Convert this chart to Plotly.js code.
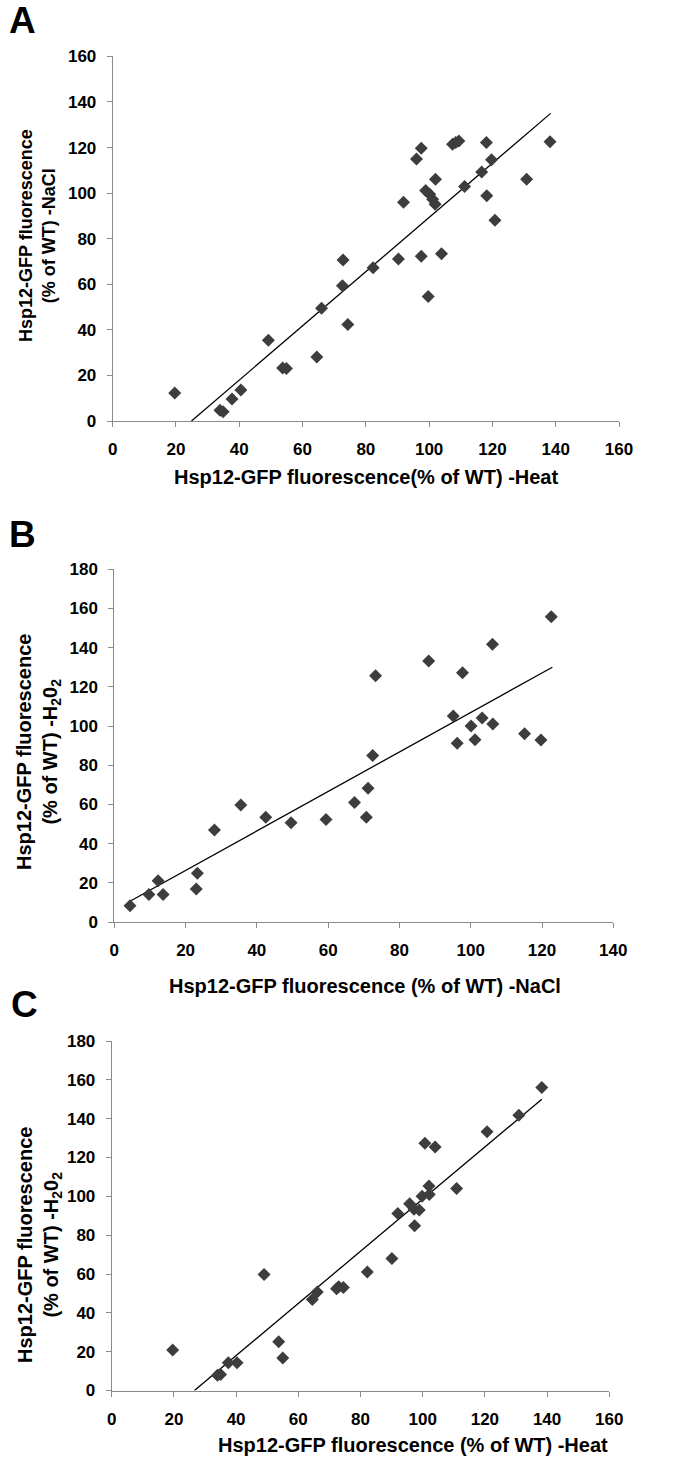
<!DOCTYPE html>
<html>
<head>
<meta charset="utf-8">
<script src="https://cdn.plot.ly/plotly-3.0.1.min.js"></script>
<style>
html,body{margin:0;padding:0;background:#fff;}
#chart{width:673px;height:1462px;}
</style>
</head>
<body>
<div id="chart"></div>
<script>
// Panel A: Heat (x) vs NaCl (y)
const heatA = [19.6,33.9,34.9,37.7,40.5,49.2,53.7,54.9,64.5,66.0,72.6,72.8,74.3,82.3,90.3,91.9,96.0,97.5,97.5,99.7,98.9,100.2,101.1,101.9,102.0,103.9,107.4,108.4,109.4,111.2,116.6,118.1,118.2,119.7,120.8,130.8,138.2];
const naclA = [12.3,4.7,4.1,9.7,13.6,35.4,23.3,23.0,28.1,49.5,59.3,70.7,42.3,67.3,71.1,96.0,115.0,119.7,72.3,54.6,101.1,99.5,97.3,95.1,106.1,73.4,121.4,122.2,122.9,102.9,109.3,122.2,98.9,114.6,88.1,106.1,122.6];
const trendA_x = [24.9, 138.4];
const trendA_y = [0, 135.0];

// Panel B: NaCl (x) vs H2O2 (y)
const naclB = [4.4,9.7,12.3,13.7,23.0,23.3,28.1,35.5,42.5,49.6,59.4,67.4,70.7,71.2,72.5,73.3,88.2,95.1,96.2,97.7,100.1,101.2,103.2,106.2,106.1,115.1,119.7,122.6];
const h2o2B = [8.3,14.0,21.0,14.0,16.9,24.9,46.9,59.7,53.5,50.6,52.3,61.0,53.5,68.2,85.0,125.7,133.2,105.1,91.2,127.2,100.0,93.0,104.1,101.0,141.7,96.1,92.9,155.8];
const trendB_x = [4.4, 122.9];
const trendB_y = [10.6, 130.0];

// Panel C: Heat (x) vs H2O2 (y)
const heatC = [19.6,34.0,35.0,37.5,40.3,49.0,53.7,55.0,64.5,66.1,72.3,73.0,74.5,82.2,90.1,92.0,95.8,97.4,97.2,98.9,99.8,100.7,102.0,102.1,104.0,110.9,120.7,130.9,138.3];
const h2o2C = [20.8,7.9,8.2,14.3,14.3,59.8,25.1,16.8,46.9,50.7,52.4,53.4,53.1,61.0,68.0,91.1,96.2,84.9,93.3,93.0,100.0,127.3,105.3,101.0,125.4,104.0,133.2,141.8,156.0];
const trendC_x = [26.6, 138.3];
const trendC_y = [0, 150.0];

const tickVals160 = [0,20,40,60,80,100,120,140,160];
const tickVals180 = [0,20,40,60,80,100,120,140,160,180];
const tickVals140 = [0,20,40,60,80,100,120,140];

const FONT = '"Liberation Sans", Arial, sans-serif';
const W = 673, H = 1462;
const px = v => v / W;
const py = v => 1 - v / H;

const markerStyle = {symbol:'diamond', size:10, color:'#3d3d3d', line:{width:0}};
const lineStyle = {color:'#000', width:1.3};

function pts(x, y, xa, ya){
  return {type:'scatter', mode:'markers', x:x, y:y, xaxis:xa, yaxis:ya, marker:markerStyle, cliponaxis:false, hoverinfo:'skip'};
}
function trend(x, y, xa, ya){
  return {type:'scatter', mode:'lines', x:x, y:y, xaxis:xa, yaxis:ya, line:lineStyle, hoverinfo:'skip'};
}

const data = [
  trend(trendA_x, trendA_y, 'x', 'y'), pts(heatA, naclA, 'x', 'y'),
  trend(trendB_x, trendB_y, 'x2', 'y2'), pts(naclB, h2o2B, 'x2', 'y2'),
  trend(trendC_x, trendC_y, 'x3', 'y3'), pts(heatC, h2o2C, 'x3', 'y3')
];

const tickFont = {family:FONT, size:17, color:'#000', weight:'bold'};

function xax(range, vals, d0, d1, anchor){
  return {domain:[px(d0), px(d1)], range:range, tickvals:vals, ticktext:vals.map(String),
    showline:true, linecolor:'#8a8a8a', linewidth:1, ticks:'outside', ticklen:5, tickcolor:'#8a8a8a',
    ticklabelstandoff:8,
    showgrid:false, zeroline:false, anchor:anchor, fixedrange:true, tickfont:tickFont};
}
function yax(range, vals, top, bottom, anchor){
  return {domain:[py(bottom), py(top)], range:range, tickvals:vals, ticktext:vals.map(String),
    showline:true, linecolor:'#8a8a8a', linewidth:1, ticks:'outside', ticklen:5, tickcolor:'#8a8a8a',
    ticklabelstandoff:7,
    showgrid:false, zeroline:false, anchor:anchor, fixedrange:true, tickfont:tickFont};
}

function ann(text, x, y, size, angle){
  return {text:text, x:px(x), y:py(y), xref:'paper', yref:'paper', showarrow:false,
    xanchor:'center', yanchor:'middle', textangle:angle||0,
    font:{family:FONT, size:size, color:'#000', weight:'bold'}};
}

const layout = {
  width:W, height:H, margin:{l:0,r:0,t:0,b:0}, showlegend:false,
  paper_bgcolor:'#fff', plot_bgcolor:'#fff',
  xaxis: xax([0,160], tickVals160, 112.7, 619, 'y'),
  yaxis: yax([0,160], tickVals160, 56.4, 421, 'x'),
  xaxis2: xax([0,140], tickVals140, 114.3, 613.3, 'y2'),
  yaxis2: yax([0,180], tickVals180, 569.3, 922, 'x2'),
  xaxis3: xax([0,160], tickVals160, 111.7, 609.3, 'y3'),
  yaxis3: yax([0,180], tickVals180, 1041, 1390.5, 'x3'),
  annotations:[
    ann('A', 22, 21, 37, 0),
    ann('B', 23, 534, 37, 0),
    ann('C', 24, 1004, 37, 0),
    ann('Hsp12-GFP fluorescence(% of WT) -Heat', 366, 477, 20, 0),
    ann('Hsp12-GFP fluorescence (% of WT) -NaCl', 365, 986, 20, 0),
    ann('Hsp12-GFP fluorescence (% of WT) -Heat', 413, 1445, 20, 0),
    ann('Hsp12-GFP fluorescence<br>(% of WT) -NaCl', 37, 236, 18, -90),
    ann('Hsp12-GFP fluorescence<br>(% of WT) -H<sub>2</sub>0<sub>2</sub>', 38, 752, 20, -90),
    ann('Hsp12-GFP fluorescence<br>(% of WT) -H<sub>2</sub>0<sub>2</sub>', 39, 1245, 20, -90)
  ]
};

Plotly.newPlot('chart', data, layout, {displayModeBar:false, staticPlot:true});
</script>
</body>
</html>
